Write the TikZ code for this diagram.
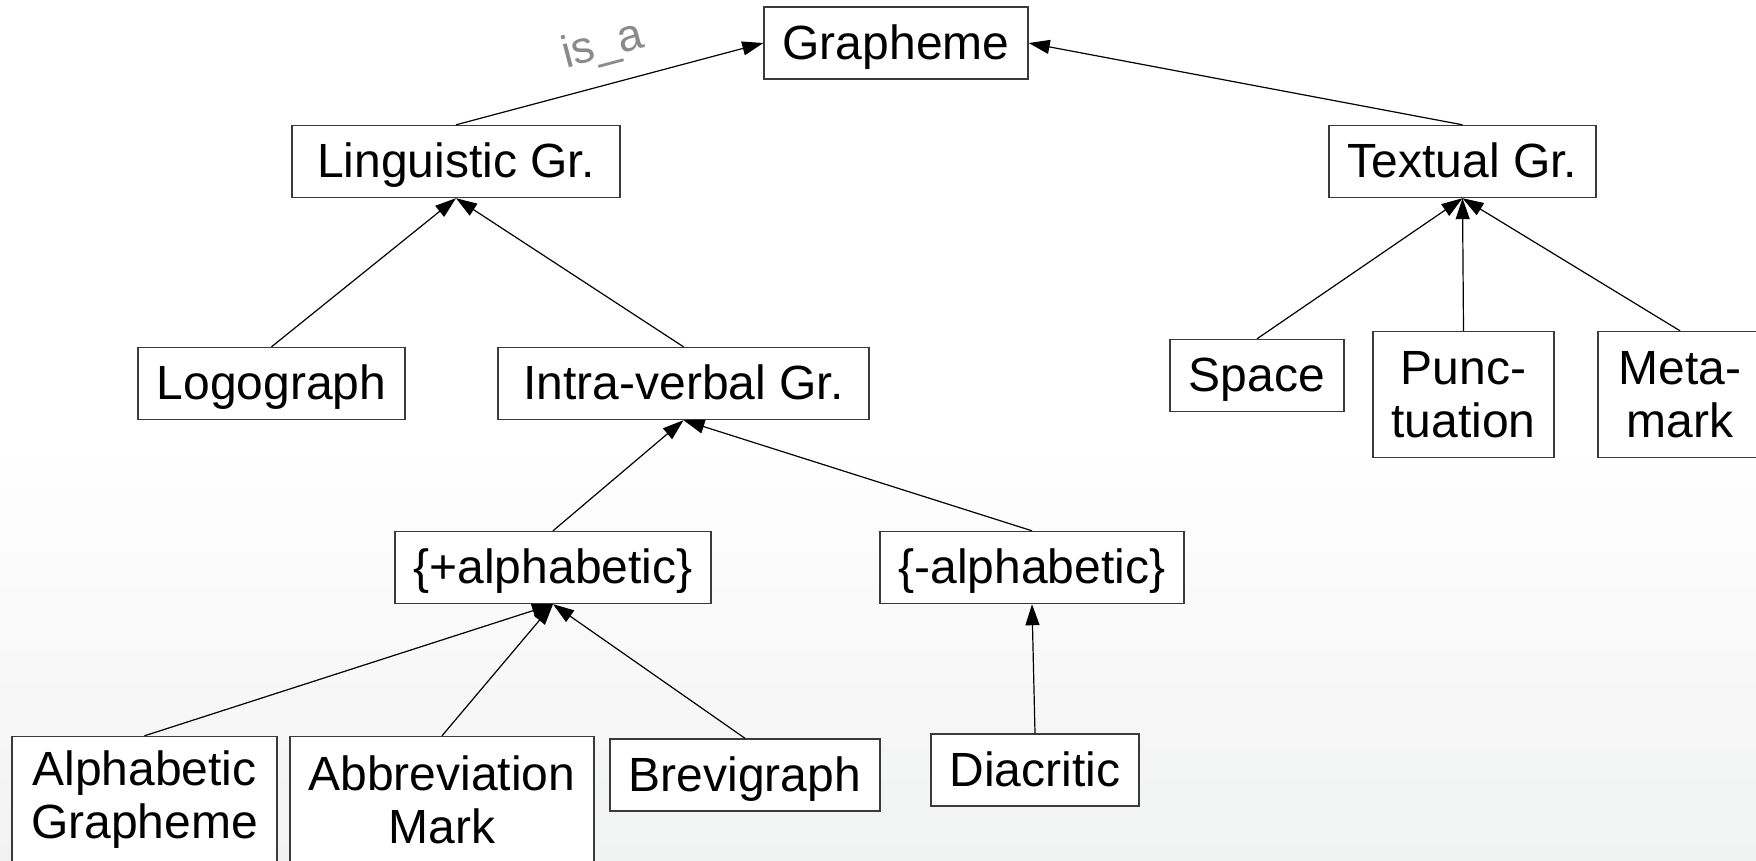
\documentclass[tikz,border=0pt]{standalone}
\usepackage{fontspec}
\setmainfont{Liberation Sans}
\usetikzlibrary{arrows.meta}
\definecolor{boxline}{HTML}{3A3A3A}
\definecolor{labelgray}{HTML}{8A8A8A}
\definecolor{floor}{HTML}{F1F2F2}
\tikzset{
  cls/.style={draw=boxline, line width=1.4pt, fill=white, inner sep=0pt,
    align=center, font=\fontsize{48}{53}\selectfont},
  one/.style={cls, minimum height=72pt, text height=40pt, text depth=8pt},
  two/.style={cls, minimum height=126pt},
  isa/.style={line width=1.2pt, -{Triangle[length=21pt,width=14pt]}},
  rel/.style={text=labelgray, font=\fontsize{45}{48}\selectfont, inner sep=0pt}
}
\begin{document}
\begin{tikzpicture}[x=1pt,y=-1pt]
  \useasboundingbox (0,0) rectangle (1756,860);
  % page background: white fading to a light grey at the bottom
  \fill[white] (0,0) rectangle (1756,440);
  \shade[top color=white, bottom color=floor] (0,440) rectangle (1756,860);

  % class boxes
  \node[one, minimum width=264pt] (graph) at (896,43) {Grapheme};
  \node[one, minimum width=328pt] (ling) at (456,161.5) {Linguistic Gr.};
  \node[one, minimum width=267pt] (text) at (1462.5,161.5) {Textual Gr.};
  \node[one, minimum width=267pt] (logo) at (271.5,383.5) {Logograph};
  \node[one, minimum width=371pt] (intra) at (683.5,383.5) {Intra-verbal Gr.};
  \node[one, minimum width=174pt] (space) at (1257,375.5) {Space};
  \node[two, minimum width=181pt] (punc) at (1463.5,394.5) {Punc-\\tuation};
  \node[two, minimum width=164pt] (meta) at (1680,394.5) {Meta-\\mark};
  \node[one, minimum width=316pt] (palpha) at (553,567.5) {\{+alphabetic\}};
  \node[one, minimum width=304pt] (malpha) at (1032,567.5) {\{-alphabetic\}};
  \node[two, minimum width=265pt] (alph) at (144.5,799.5) {Alphabetic\\Grapheme};
  \node[two, minimum width=304pt] (abbr) at (442,799.5) {Abbreviation\\Mark};
  \node[one, minimum width=270pt] (brev) at (745,775) {Brevigraph};
  \node[one, minimum width=208pt] (diac) at (1035,770) {Diacritic};

  % generalisation links, child -> parent
  \draw[isa] (ling.north) -- (graph.west)
    node[rel, pos=0.51, above=17pt, sloped] {is\_a};
  \draw[isa] (text.north) -- (graph.east);
  \draw[isa] (logo.north) -- (ling.south);
  \draw[isa] (intra.north) -- (ling.south);
  \draw[isa] (space.north) -- (text.south);
  \draw[isa] (punc.north) -- (text.south);
  \draw[isa] (meta.north) -- (text.south);
  \draw[isa] (palpha.north) -- (intra.south);
  \draw[isa] (malpha.north) -- (intra.south);
  \draw[isa] (alph.north) -- (palpha.south);
  \draw[isa] (abbr.north) -- (palpha.south);
  \draw[isa] (brev.north) -- (palpha.south);
  \draw[isa] (diac.north) -- (malpha.south);
\end{tikzpicture}
\end{document}
